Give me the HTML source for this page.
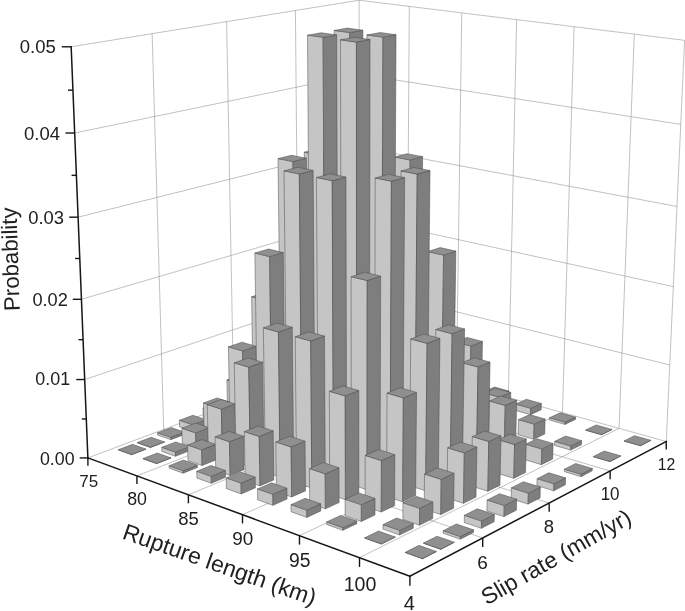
<!DOCTYPE html>
<html><head><meta charset="utf-8"><title>Probability chart</title>
<style>html,body{margin:0;padding:0;background:#fff}svg{display:block}text{font-family:"Liberation Sans",Arial,sans-serif;fill:#202020}</style>
</head><body>
<svg width="685" height="611" viewBox="0 0 685 611">
<rect width="685" height="611" fill="#fff"/>
<line x1="84.70" y1="379.55" x2="359.14" y2="287.59" stroke="#8e8e8e" stroke-width="0.55" />
<line x1="359.14" y1="287.59" x2="669.75" y2="364.96" stroke="#8e8e8e" stroke-width="0.55" />
<line x1="81.44" y1="299.32" x2="359.13" y2="217.93" stroke="#8e8e8e" stroke-width="0.55" />
<line x1="359.13" y1="217.93" x2="673.33" y2="286.62" stroke="#8e8e8e" stroke-width="0.55" />
<line x1="78.10" y1="217.16" x2="359.12" y2="146.85" stroke="#8e8e8e" stroke-width="0.55" />
<line x1="359.12" y1="146.85" x2="676.99" y2="206.45" stroke="#8e8e8e" stroke-width="0.55" />
<line x1="74.68" y1="133.01" x2="359.12" y2="74.29" stroke="#8e8e8e" stroke-width="0.55" />
<line x1="359.12" y1="74.29" x2="680.75" y2="124.38" stroke="#8e8e8e" stroke-width="0.55" />
<line x1="71.17" y1="46.78" x2="359.11" y2="0.21" stroke="#8e8e8e" stroke-width="0.55" />
<line x1="359.11" y1="0.21" x2="684.59" y2="40.35" stroke="#8e8e8e" stroke-width="0.55" />
<line x1="163.70" y1="429.40" x2="152.14" y2="33.68" stroke="#8e8e8e" stroke-width="0.55" />
<line x1="233.77" y1="403.03" x2="226.64" y2="21.63" stroke="#8e8e8e" stroke-width="0.55" />
<line x1="298.74" y1="378.59" x2="295.42" y2="10.51" stroke="#8e8e8e" stroke-width="0.55" />
<line x1="359.14" y1="355.86" x2="359.11" y2="0.21" stroke="#8e8e8e" stroke-width="0.55" />
<line x1="406.79" y1="369.15" x2="409.31" y2="6.40" stroke="#8e8e8e" stroke-width="0.55" />
<line x1="456.47" y1="383.01" x2="461.76" y2="12.87" stroke="#8e8e8e" stroke-width="0.55" />
<line x1="508.31" y1="397.47" x2="516.63" y2="19.63" stroke="#8e8e8e" stroke-width="0.55" />
<line x1="562.46" y1="412.57" x2="574.08" y2="26.72" stroke="#8e8e8e" stroke-width="0.55" />
<line x1="619.07" y1="428.37" x2="634.29" y2="34.14" stroke="#8e8e8e" stroke-width="0.55" />
<line x1="666.24" y1="441.53" x2="684.59" y2="40.35" stroke="#8e8e8e" stroke-width="0.55" />
<line x1="163.70" y1="429.40" x2="482.70" y2="537.94" stroke="#8e8e8e" stroke-width="0.55" />
<line x1="233.77" y1="403.03" x2="549.18" y2="503.02" stroke="#8e8e8e" stroke-width="0.55" />
<line x1="298.74" y1="378.59" x2="610.14" y2="470.99" stroke="#8e8e8e" stroke-width="0.55" />
<line x1="359.14" y1="355.86" x2="666.24" y2="441.53" stroke="#8e8e8e" stroke-width="0.55" />
<line x1="87.89" y1="457.92" x2="359.14" y2="355.86" stroke="#8e8e8e" stroke-width="0.55" />
<line x1="136.92" y1="475.93" x2="406.79" y2="369.15" stroke="#8e8e8e" stroke-width="0.55" />
<line x1="188.40" y1="494.83" x2="456.47" y2="383.01" stroke="#8e8e8e" stroke-width="0.55" />
<line x1="242.51" y1="514.70" x2="508.31" y2="397.47" stroke="#8e8e8e" stroke-width="0.55" />
<line x1="299.47" y1="535.62" x2="562.46" y2="412.57" stroke="#8e8e8e" stroke-width="0.55" />
<line x1="359.50" y1="557.66" x2="619.07" y2="428.37" stroke="#8e8e8e" stroke-width="0.55" />
<polygon points="348.27,362.98 361.31,366.67 361.31,366.47 348.27,362.77" fill="#c5c5c5" stroke="#4a4a4a" stroke-width="0.5" stroke-linejoin="round"/>
<polygon points="361.31,366.67 372.33,362.45 372.33,362.24 361.31,366.47" fill="#7e7e7e" stroke="#4a4a4a" stroke-width="0.5" stroke-linejoin="round"/>
<polygon points="348.27,362.77 361.31,366.47 372.33,362.24 359.32,358.59" fill="#8f8f8f" stroke="#4a4a4a" stroke-width="0.5" stroke-linejoin="round"/>
<polygon points="315.52,375.35 328.63,379.20 328.63,378.99 315.52,375.15" fill="#c5c5c5" stroke="#4a4a4a" stroke-width="0.5" stroke-linejoin="round"/>
<polygon points="328.63,379.20 340.10,374.80 340.10,374.59 328.63,378.99" fill="#7e7e7e" stroke="#4a4a4a" stroke-width="0.5" stroke-linejoin="round"/>
<polygon points="315.52,375.15 328.63,378.99 340.10,374.59 327.01,370.80" fill="#8f8f8f" stroke="#4a4a4a" stroke-width="0.5" stroke-linejoin="round"/>
<polygon points="284.68,387.02 297.85,391.00 297.83,388.82 284.66,384.85" fill="#c5c5c5" stroke="#4a4a4a" stroke-width="0.5" stroke-linejoin="round"/>
<polygon points="297.85,391.00 309.73,386.44 309.71,384.28 297.83,388.82" fill="#7e7e7e" stroke="#4a4a4a" stroke-width="0.5" stroke-linejoin="round"/>
<polygon points="284.66,384.85 297.83,388.82 309.71,384.28 296.57,380.36" fill="#8f8f8f" stroke="#4a4a4a" stroke-width="0.5" stroke-linejoin="round"/>
<polygon points="255.72,397.97 268.92,402.08 268.84,395.83 255.62,391.75" fill="#c5c5c5" stroke="#4a4a4a" stroke-width="0.5" stroke-linejoin="round"/>
<polygon points="268.92,402.08 281.21,397.37 281.14,391.16 268.84,395.83" fill="#7e7e7e" stroke="#4a4a4a" stroke-width="0.5" stroke-linejoin="round"/>
<polygon points="255.62,391.75 268.84,395.83 281.14,391.16 267.94,387.14" fill="#8f8f8f" stroke="#4a4a4a" stroke-width="0.5" stroke-linejoin="round"/>
<polygon points="228.58,408.23 241.82,412.47 241.65,402.67 228.39,398.49" fill="#c5c5c5" stroke="#4a4a4a" stroke-width="0.5" stroke-linejoin="round"/>
<polygon points="241.82,412.47 254.49,407.61 254.34,397.88 241.65,402.67" fill="#7e7e7e" stroke="#4a4a4a" stroke-width="0.5" stroke-linejoin="round"/>
<polygon points="228.39,398.49 241.65,402.67 254.34,397.88 241.09,393.75" fill="#8f8f8f" stroke="#4a4a4a" stroke-width="0.5" stroke-linejoin="round"/>
<polygon points="203.22,417.82 216.50,422.18 216.29,412.26 202.99,407.95" fill="#c5c5c5" stroke="#4a4a4a" stroke-width="0.5" stroke-linejoin="round"/>
<polygon points="216.50,422.18 229.53,417.18 229.34,407.33 216.29,412.26" fill="#7e7e7e" stroke="#4a4a4a" stroke-width="0.5" stroke-linejoin="round"/>
<polygon points="202.99,407.95 216.29,412.26 229.34,407.33 216.06,403.08" fill="#8f8f8f" stroke="#4a4a4a" stroke-width="0.5" stroke-linejoin="round"/>
<polygon points="179.58,426.75 192.88,431.23 192.72,424.74 179.41,420.30" fill="#c5c5c5" stroke="#4a4a4a" stroke-width="0.5" stroke-linejoin="round"/>
<polygon points="192.88,431.23 206.26,426.10 206.11,419.65 192.72,424.74" fill="#7e7e7e" stroke="#4a4a4a" stroke-width="0.5" stroke-linejoin="round"/>
<polygon points="179.41,420.30 192.72,424.74 206.11,419.65 192.81,415.28" fill="#8f8f8f" stroke="#4a4a4a" stroke-width="0.5" stroke-linejoin="round"/>
<polygon points="157.59,435.07 170.91,439.65 170.85,437.33 157.52,432.76" fill="#c5c5c5" stroke="#4a4a4a" stroke-width="0.5" stroke-linejoin="round"/>
<polygon points="170.91,439.65 184.61,434.40 184.55,432.10 170.85,437.33" fill="#7e7e7e" stroke="#4a4a4a" stroke-width="0.5" stroke-linejoin="round"/>
<polygon points="157.52,432.76 170.85,437.33 184.55,432.10 171.23,427.60" fill="#8f8f8f" stroke="#4a4a4a" stroke-width="0.5" stroke-linejoin="round"/>
<polygon points="137.17,442.79 150.51,447.47 150.50,447.24 137.17,442.56" fill="#c5c5c5" stroke="#4a4a4a" stroke-width="0.5" stroke-linejoin="round"/>
<polygon points="150.51,447.47 164.51,442.10 164.51,441.88 150.50,447.24" fill="#7e7e7e" stroke="#4a4a4a" stroke-width="0.5" stroke-linejoin="round"/>
<polygon points="137.17,442.56 150.50,447.24 164.51,441.88 151.18,437.26" fill="#8f8f8f" stroke="#4a4a4a" stroke-width="0.5" stroke-linejoin="round"/>
<polygon points="118.26,449.94 131.61,454.72 131.60,454.49 118.25,449.71" fill="#c5c5c5" stroke="#4a4a4a" stroke-width="0.5" stroke-linejoin="round"/>
<polygon points="131.61,454.72 145.89,449.24 145.88,449.01 131.60,454.49" fill="#7e7e7e" stroke="#4a4a4a" stroke-width="0.5" stroke-linejoin="round"/>
<polygon points="118.25,449.71 131.60,454.49 145.88,449.01 132.54,444.31" fill="#8f8f8f" stroke="#4a4a4a" stroke-width="0.5" stroke-linejoin="round"/>
<polygon points="372.40,369.82 385.72,373.59 385.72,373.38 372.40,369.61" fill="#c5c5c5" stroke="#4a4a4a" stroke-width="0.5" stroke-linejoin="round"/>
<polygon points="385.72,373.59 396.70,369.27 396.70,369.07 385.72,373.38" fill="#7e7e7e" stroke="#4a4a4a" stroke-width="0.5" stroke-linejoin="round"/>
<polygon points="372.40,369.61 385.72,373.38 396.70,369.07 383.41,365.34" fill="#8f8f8f" stroke="#4a4a4a" stroke-width="0.5" stroke-linejoin="round"/>
<polygon points="339.79,382.47 353.18,386.39 353.18,382.61 339.78,378.71" fill="#c5c5c5" stroke="#4a4a4a" stroke-width="0.5" stroke-linejoin="round"/>
<polygon points="353.18,386.39 364.60,381.90 364.60,378.15 353.18,382.61" fill="#7e7e7e" stroke="#4a4a4a" stroke-width="0.5" stroke-linejoin="round"/>
<polygon points="339.78,378.71 353.18,382.61 364.60,378.15 351.23,374.29" fill="#8f8f8f" stroke="#4a4a4a" stroke-width="0.5" stroke-linejoin="round"/>
<polygon points="309.05,394.39 322.50,398.45 322.43,384.05 308.94,380.06" fill="#c5c5c5" stroke="#4a4a4a" stroke-width="0.5" stroke-linejoin="round"/>
<polygon points="322.50,398.45 334.35,393.80 334.29,379.48 322.43,384.05" fill="#7e7e7e" stroke="#4a4a4a" stroke-width="0.5" stroke-linejoin="round"/>
<polygon points="308.94,380.06 322.43,384.05 334.29,379.48 320.83,375.54" fill="#8f8f8f" stroke="#4a4a4a" stroke-width="0.5" stroke-linejoin="round"/>
<polygon points="280.17,405.59 293.68,409.79 293.37,378.75 279.80,374.71" fill="#c5c5c5" stroke="#4a4a4a" stroke-width="0.5" stroke-linejoin="round"/>
<polygon points="293.68,409.79 305.92,404.98 305.68,374.13 293.37,378.75" fill="#7e7e7e" stroke="#4a4a4a" stroke-width="0.5" stroke-linejoin="round"/>
<polygon points="279.80,374.71 293.37,378.75 305.68,374.13 292.13,370.15" fill="#8f8f8f" stroke="#4a4a4a" stroke-width="0.5" stroke-linejoin="round"/>
<polygon points="253.10,416.08 266.65,420.42 266.02,374.82 252.38,370.74" fill="#c5c5c5" stroke="#4a4a4a" stroke-width="0.5" stroke-linejoin="round"/>
<polygon points="266.65,420.42 279.29,415.45 278.75,370.15 266.02,374.82" fill="#7e7e7e" stroke="#4a4a4a" stroke-width="0.5" stroke-linejoin="round"/>
<polygon points="252.38,370.74 266.02,374.82 278.75,370.15 265.13,366.13" fill="#8f8f8f" stroke="#4a4a4a" stroke-width="0.5" stroke-linejoin="round"/>
<polygon points="227.80,425.89 241.39,430.36 240.58,384.17 226.90,379.96" fill="#c5c5c5" stroke="#4a4a4a" stroke-width="0.5" stroke-linejoin="round"/>
<polygon points="241.39,430.36 254.39,425.24 253.67,379.36 240.58,384.17" fill="#7e7e7e" stroke="#4a4a4a" stroke-width="0.5" stroke-linejoin="round"/>
<polygon points="226.90,379.96 240.58,384.17 253.67,379.36 240.01,375.22" fill="#8f8f8f" stroke="#4a4a4a" stroke-width="0.5" stroke-linejoin="round"/>
<polygon points="204.21,435.04 217.83,439.62 217.14,407.35 203.47,402.95" fill="#c5c5c5" stroke="#4a4a4a" stroke-width="0.5" stroke-linejoin="round"/>
<polygon points="217.83,439.62 231.17,434.37 230.56,402.32 217.14,407.35" fill="#7e7e7e" stroke="#4a4a4a" stroke-width="0.5" stroke-linejoin="round"/>
<polygon points="203.47,402.95 217.14,407.35 230.56,402.32 216.90,397.98" fill="#8f8f8f" stroke="#4a4a4a" stroke-width="0.5" stroke-linejoin="round"/>
<polygon points="182.26,443.56 195.90,448.25 195.52,432.88 181.85,428.27" fill="#c5c5c5" stroke="#4a4a4a" stroke-width="0.5" stroke-linejoin="round"/>
<polygon points="195.90,448.25 209.57,442.87 209.23,427.60 195.52,432.88" fill="#7e7e7e" stroke="#4a4a4a" stroke-width="0.5" stroke-linejoin="round"/>
<polygon points="181.85,428.27 195.52,432.88 209.23,427.60 195.57,423.07" fill="#8f8f8f" stroke="#4a4a4a" stroke-width="0.5" stroke-linejoin="round"/>
<polygon points="161.87,451.46 175.53,456.26 175.42,452.12 161.75,447.35" fill="#c5c5c5" stroke="#4a4a4a" stroke-width="0.5" stroke-linejoin="round"/>
<polygon points="175.53,456.26 189.51,450.76 189.41,446.65 175.42,452.12" fill="#7e7e7e" stroke="#4a4a4a" stroke-width="0.5" stroke-linejoin="round"/>
<polygon points="161.75,447.35 175.42,452.12 189.41,446.65 175.75,441.95" fill="#8f8f8f" stroke="#4a4a4a" stroke-width="0.5" stroke-linejoin="round"/>
<polygon points="142.98,458.79 156.66,463.68 156.65,463.45 142.97,458.55" fill="#c5c5c5" stroke="#4a4a4a" stroke-width="0.5" stroke-linejoin="round"/>
<polygon points="156.66,463.68 170.92,458.07 170.91,457.84 156.65,463.45" fill="#7e7e7e" stroke="#4a4a4a" stroke-width="0.5" stroke-linejoin="round"/>
<polygon points="142.97,458.55 156.65,463.45 170.91,457.84 157.25,453.02" fill="#8f8f8f" stroke="#4a4a4a" stroke-width="0.5" stroke-linejoin="round"/>
<polygon points="397.89,377.04 411.51,380.90 411.52,378.76 397.90,374.91" fill="#c5c5c5" stroke="#4a4a4a" stroke-width="0.5" stroke-linejoin="round"/>
<polygon points="411.51,380.90 422.43,376.48 422.45,374.35 411.52,378.76" fill="#7e7e7e" stroke="#4a4a4a" stroke-width="0.5" stroke-linejoin="round"/>
<polygon points="397.90,374.91 411.52,378.76 422.45,374.35 408.86,370.56" fill="#8f8f8f" stroke="#4a4a4a" stroke-width="0.5" stroke-linejoin="round"/>
<polygon points="365.42,389.98 379.11,393.99 379.16,379.68 365.43,375.74" fill="#c5c5c5" stroke="#4a4a4a" stroke-width="0.5" stroke-linejoin="round"/>
<polygon points="379.11,393.99 390.48,389.40 390.55,375.17 379.16,379.68" fill="#7e7e7e" stroke="#4a4a4a" stroke-width="0.5" stroke-linejoin="round"/>
<polygon points="365.43,375.74 379.16,379.68 390.55,375.17 376.85,371.29" fill="#8f8f8f" stroke="#4a4a4a" stroke-width="0.5" stroke-linejoin="round"/>
<polygon points="334.80,402.17 348.57,406.34 348.49,361.19 334.63,357.28" fill="#c5c5c5" stroke="#4a4a4a" stroke-width="0.5" stroke-linejoin="round"/>
<polygon points="348.57,406.34 360.36,401.57 360.37,356.72 348.49,361.19" fill="#7e7e7e" stroke="#4a4a4a" stroke-width="0.5" stroke-linejoin="round"/>
<polygon points="334.63,357.28 348.49,361.19 360.37,356.72 346.53,352.85" fill="#8f8f8f" stroke="#4a4a4a" stroke-width="0.5" stroke-linejoin="round"/>
<polygon points="306.02,413.64 319.85,417.95 319.29,324.20 305.28,320.42" fill="#c5c5c5" stroke="#4a4a4a" stroke-width="0.5" stroke-linejoin="round"/>
<polygon points="319.85,417.95 332.05,413.01 331.67,319.88 319.29,324.20" fill="#7e7e7e" stroke="#4a4a4a" stroke-width="0.5" stroke-linejoin="round"/>
<polygon points="305.28,320.42 319.29,324.20 331.67,319.88 317.68,316.16" fill="#8f8f8f" stroke="#4a4a4a" stroke-width="0.5" stroke-linejoin="round"/>
<polygon points="279.04,424.39 292.92,428.83 291.56,292.18 277.41,288.52" fill="#c5c5c5" stroke="#4a4a4a" stroke-width="0.5" stroke-linejoin="round"/>
<polygon points="292.92,428.83 305.51,423.74 304.41,288.00 291.56,292.18" fill="#7e7e7e" stroke="#4a4a4a" stroke-width="0.5" stroke-linejoin="round"/>
<polygon points="277.41,288.52 291.56,292.18 304.41,288.00 290.29,284.40" fill="#8f8f8f" stroke="#4a4a4a" stroke-width="0.5" stroke-linejoin="round"/>
<polygon points="253.81,434.44 267.73,439.01 265.83,300.53 251.64,296.76" fill="#c5c5c5" stroke="#4a4a4a" stroke-width="0.5" stroke-linejoin="round"/>
<polygon points="267.73,439.01 280.69,433.77 279.07,296.23 265.83,300.53" fill="#7e7e7e" stroke="#4a4a4a" stroke-width="0.5" stroke-linejoin="round"/>
<polygon points="251.64,296.76 265.83,300.53 279.07,296.23 264.90,292.52" fill="#8f8f8f" stroke="#4a4a4a" stroke-width="0.5" stroke-linejoin="round"/>
<polygon points="230.28,443.81 244.23,448.51 242.55,350.97 228.40,346.84" fill="#c5c5c5" stroke="#4a4a4a" stroke-width="0.5" stroke-linejoin="round"/>
<polygon points="244.23,448.51 257.54,443.13 256.06,346.25 242.55,350.97" fill="#7e7e7e" stroke="#4a4a4a" stroke-width="0.5" stroke-linejoin="round"/>
<polygon points="228.40,346.84 242.55,350.97 256.06,346.25 241.94,342.19" fill="#8f8f8f" stroke="#4a4a4a" stroke-width="0.5" stroke-linejoin="round"/>
<polygon points="208.37,452.54 222.36,457.35 221.36,409.13 207.29,404.60" fill="#c5c5c5" stroke="#4a4a4a" stroke-width="0.5" stroke-linejoin="round"/>
<polygon points="222.36,457.35 236.00,451.83 235.11,403.95 221.36,409.13" fill="#7e7e7e" stroke="#4a4a4a" stroke-width="0.5" stroke-linejoin="round"/>
<polygon points="207.29,404.60 221.36,409.13 235.11,403.95 221.05,399.49" fill="#8f8f8f" stroke="#4a4a4a" stroke-width="0.5" stroke-linejoin="round"/>
<polygon points="188.03,460.64 202.03,465.56 201.66,449.86 187.63,445.04" fill="#c5c5c5" stroke="#4a4a4a" stroke-width="0.5" stroke-linejoin="round"/>
<polygon points="202.03,465.56 215.98,459.92 215.65,444.33 201.66,449.86" fill="#7e7e7e" stroke="#4a4a4a" stroke-width="0.5" stroke-linejoin="round"/>
<polygon points="187.63,445.04 201.66,449.86 215.65,444.33 201.63,439.58" fill="#8f8f8f" stroke="#4a4a4a" stroke-width="0.5" stroke-linejoin="round"/>
<polygon points="169.16,468.16 183.19,473.18 183.12,470.76 169.10,465.76" fill="#c5c5c5" stroke="#4a4a4a" stroke-width="0.5" stroke-linejoin="round"/>
<polygon points="183.19,473.18 197.43,467.42 197.37,465.02 183.12,470.76" fill="#7e7e7e" stroke="#4a4a4a" stroke-width="0.5" stroke-linejoin="round"/>
<polygon points="169.10,465.76 183.12,470.76 197.37,465.02 183.36,460.10" fill="#8f8f8f" stroke="#4a4a4a" stroke-width="0.5" stroke-linejoin="round"/>
<polygon points="424.83,384.68 438.77,388.63 438.84,382.50 424.89,378.58" fill="#c5c5c5" stroke="#4a4a4a" stroke-width="0.5" stroke-linejoin="round"/>
<polygon points="438.77,388.63 449.63,384.11 449.71,378.01 438.84,382.50" fill="#7e7e7e" stroke="#4a4a4a" stroke-width="0.5" stroke-linejoin="round"/>
<polygon points="424.89,378.58 438.84,382.50 449.71,378.01 435.79,374.15" fill="#8f8f8f" stroke="#4a4a4a" stroke-width="0.5" stroke-linejoin="round"/>
<polygon points="392.52,397.92 406.54,402.03 406.76,371.32 392.67,367.38" fill="#c5c5c5" stroke="#4a4a4a" stroke-width="0.5" stroke-linejoin="round"/>
<polygon points="406.54,402.03 417.85,397.33 418.12,366.81 406.76,371.32" fill="#7e7e7e" stroke="#4a4a4a" stroke-width="0.5" stroke-linejoin="round"/>
<polygon points="392.67,367.38 406.76,371.32 418.12,366.81 404.06,362.92" fill="#8f8f8f" stroke="#4a4a4a" stroke-width="0.5" stroke-linejoin="round"/>
<polygon points="362.04,410.41 376.14,414.68 376.37,321.36 362.07,317.62" fill="#c5c5c5" stroke="#4a4a4a" stroke-width="0.5" stroke-linejoin="round"/>
<polygon points="376.14,414.68 387.88,409.79 388.27,317.09 376.37,321.36" fill="#7e7e7e" stroke="#4a4a4a" stroke-width="0.5" stroke-linejoin="round"/>
<polygon points="362.07,317.62 376.37,321.36 388.27,317.09 374.00,313.40" fill="#8f8f8f" stroke="#4a4a4a" stroke-width="0.5" stroke-linejoin="round"/>
<polygon points="333.38,422.16 347.55,426.57 347.20,233.35 332.63,230.05" fill="#c5c5c5" stroke="#4a4a4a" stroke-width="0.5" stroke-linejoin="round"/>
<polygon points="347.55,426.57 359.70,421.52 359.70,229.60 347.20,233.35" fill="#7e7e7e" stroke="#4a4a4a" stroke-width="0.5" stroke-linejoin="round"/>
<polygon points="332.63,230.05 347.20,233.35 359.70,229.60 345.16,226.35" fill="#8f8f8f" stroke="#4a4a4a" stroke-width="0.5" stroke-linejoin="round"/>
<polygon points="306.50,433.18 320.73,437.73 319.08,155.02 304.27,152.14" fill="#c5c5c5" stroke="#4a4a4a" stroke-width="0.5" stroke-linejoin="round"/>
<polygon points="320.73,437.73 333.27,432.51 332.16,151.76 319.08,155.02" fill="#7e7e7e" stroke="#4a4a4a" stroke-width="0.5" stroke-linejoin="round"/>
<polygon points="304.27,152.14 319.08,155.02 332.16,151.76 317.38,148.93" fill="#8f8f8f" stroke="#4a4a4a" stroke-width="0.5" stroke-linejoin="round"/>
<polygon points="281.36,443.48 295.63,448.17 292.89,161.55 278.02,158.58" fill="#c5c5c5" stroke="#4a4a4a" stroke-width="0.5" stroke-linejoin="round"/>
<polygon points="295.63,448.17 308.55,442.80 306.37,158.19 292.89,161.55" fill="#7e7e7e" stroke="#4a4a4a" stroke-width="0.5" stroke-linejoin="round"/>
<polygon points="278.02,158.58 292.89,161.55 306.37,158.19 291.54,155.26" fill="#8f8f8f" stroke="#4a4a4a" stroke-width="0.5" stroke-linejoin="round"/>
<polygon points="257.90,453.10 272.21,457.92 269.57,256.66 254.85,253.05" fill="#c5c5c5" stroke="#4a4a4a" stroke-width="0.5" stroke-linejoin="round"/>
<polygon points="272.21,457.92 285.48,452.40 283.26,252.55 269.57,256.66" fill="#7e7e7e" stroke="#4a4a4a" stroke-width="0.5" stroke-linejoin="round"/>
<polygon points="254.85,253.05 269.57,256.66 283.26,252.55 268.56,248.99" fill="#8f8f8f" stroke="#4a4a4a" stroke-width="0.5" stroke-linejoin="round"/>
<polygon points="236.05,462.06 250.40,466.99 248.76,367.20 234.21,362.86" fill="#c5c5c5" stroke="#4a4a4a" stroke-width="0.5" stroke-linejoin="round"/>
<polygon points="250.40,466.99 264.00,461.33 262.58,362.24 248.76,367.20" fill="#7e7e7e" stroke="#4a4a4a" stroke-width="0.5" stroke-linejoin="round"/>
<polygon points="234.21,362.86 248.76,367.20 262.58,362.24 248.05,357.96" fill="#8f8f8f" stroke="#4a4a4a" stroke-width="0.5" stroke-linejoin="round"/>
<polygon points="215.75,470.38 230.13,475.43 229.47,441.71 215.03,436.86" fill="#c5c5c5" stroke="#4a4a4a" stroke-width="0.5" stroke-linejoin="round"/>
<polygon points="230.13,475.43 244.04,469.64 243.46,436.15 229.47,441.71" fill="#7e7e7e" stroke="#4a4a4a" stroke-width="0.5" stroke-linejoin="round"/>
<polygon points="215.03,436.86 229.47,441.71 243.46,436.15 229.04,431.38" fill="#8f8f8f" stroke="#4a4a4a" stroke-width="0.5" stroke-linejoin="round"/>
<polygon points="196.93,478.09 211.33,483.25 211.17,476.33 196.76,471.22" fill="#c5c5c5" stroke="#4a4a4a" stroke-width="0.5" stroke-linejoin="round"/>
<polygon points="211.33,483.25 225.53,477.34 225.40,470.47 211.17,476.33" fill="#7e7e7e" stroke="#4a4a4a" stroke-width="0.5" stroke-linejoin="round"/>
<polygon points="196.76,471.22 211.17,476.33 225.40,470.47 211.00,465.44" fill="#8f8f8f" stroke="#4a4a4a" stroke-width="0.5" stroke-linejoin="round"/>
<polygon points="453.33,392.75 467.61,396.80 467.76,387.22 453.46,383.22" fill="#c5c5c5" stroke="#4a4a4a" stroke-width="0.5" stroke-linejoin="round"/>
<polygon points="467.61,396.80 478.40,392.17 478.57,382.65 467.76,387.22" fill="#7e7e7e" stroke="#4a4a4a" stroke-width="0.5" stroke-linejoin="round"/>
<polygon points="453.46,383.22 467.76,387.22 478.57,382.65 464.31,378.71" fill="#8f8f8f" stroke="#4a4a4a" stroke-width="0.5" stroke-linejoin="round"/>
<polygon points="421.21,406.33 435.58,410.54 436.09,365.57 421.61,361.61" fill="#c5c5c5" stroke="#4a4a4a" stroke-width="0.5" stroke-linejoin="round"/>
<polygon points="435.58,410.54 446.82,405.72 447.40,361.04 436.09,365.57" fill="#7e7e7e" stroke="#4a4a4a" stroke-width="0.5" stroke-linejoin="round"/>
<polygon points="421.61,361.61 436.09,365.57 447.40,361.04 432.96,357.13" fill="#8f8f8f" stroke="#4a4a4a" stroke-width="0.5" stroke-linejoin="round"/>
<polygon points="390.89,419.14 405.35,423.51 406.27,287.88 391.51,284.28" fill="#c5c5c5" stroke="#4a4a4a" stroke-width="0.5" stroke-linejoin="round"/>
<polygon points="405.35,423.51 417.03,418.50 418.17,283.78 406.27,287.88" fill="#7e7e7e" stroke="#4a4a4a" stroke-width="0.5" stroke-linejoin="round"/>
<polygon points="391.51,284.28 406.27,287.88 418.17,283.78 403.45,280.23" fill="#8f8f8f" stroke="#4a4a4a" stroke-width="0.5" stroke-linejoin="round"/>
<polygon points="362.37,431.19 376.90,435.72 377.62,153.84 362.48,150.97" fill="#c5c5c5" stroke="#4a4a4a" stroke-width="0.5" stroke-linejoin="round"/>
<polygon points="376.90,435.72 388.99,430.53 390.21,150.60 377.62,153.84" fill="#7e7e7e" stroke="#4a4a4a" stroke-width="0.5" stroke-linejoin="round"/>
<polygon points="362.48,150.97 377.62,153.84 390.21,150.60 375.10,147.78" fill="#8f8f8f" stroke="#4a4a4a" stroke-width="0.5" stroke-linejoin="round"/>
<polygon points="335.61,442.50 350.21,447.17 349.61,32.58 334.12,30.44" fill="#c5c5c5" stroke="#4a4a4a" stroke-width="0.5" stroke-linejoin="round"/>
<polygon points="350.21,447.17 362.69,441.82 362.87,30.19 349.61,32.58" fill="#7e7e7e" stroke="#4a4a4a" stroke-width="0.5" stroke-linejoin="round"/>
<polygon points="334.12,30.44 349.61,32.58 362.87,30.19 347.41,28.08" fill="#8f8f8f" stroke="#4a4a4a" stroke-width="0.5" stroke-linejoin="round"/>
<polygon points="310.56,453.08 325.22,457.89 323.05,37.37 307.49,35.16" fill="#c5c5c5" stroke="#4a4a4a" stroke-width="0.5" stroke-linejoin="round"/>
<polygon points="325.22,457.89 338.08,452.37 336.73,34.90 323.05,37.37" fill="#7e7e7e" stroke="#4a4a4a" stroke-width="0.5" stroke-linejoin="round"/>
<polygon points="307.49,35.16 323.05,37.37 336.73,34.90 321.20,32.73" fill="#8f8f8f" stroke="#4a4a4a" stroke-width="0.5" stroke-linejoin="round"/>
<polygon points="287.19,462.96 301.89,467.90 299.34,173.98 284.01,170.84" fill="#c5c5c5" stroke="#4a4a4a" stroke-width="0.5" stroke-linejoin="round"/>
<polygon points="301.89,467.90 315.11,462.23 313.15,170.42 299.34,173.98" fill="#7e7e7e" stroke="#4a4a4a" stroke-width="0.5" stroke-linejoin="round"/>
<polygon points="284.01,170.84 299.34,173.98 313.15,170.42 297.86,167.33" fill="#8f8f8f" stroke="#4a4a4a" stroke-width="0.5" stroke-linejoin="round"/>
<polygon points="265.41,472.16 280.15,477.23 278.42,332.00 263.37,327.82" fill="#c5c5c5" stroke="#4a4a4a" stroke-width="0.5" stroke-linejoin="round"/>
<polygon points="280.15,477.23 293.71,471.41 292.28,327.22 278.42,332.00" fill="#7e7e7e" stroke="#4a4a4a" stroke-width="0.5" stroke-linejoin="round"/>
<polygon points="263.37,327.82 278.42,332.00 292.28,327.22 277.26,323.10" fill="#8f8f8f" stroke="#4a4a4a" stroke-width="0.5" stroke-linejoin="round"/>
<polygon points="245.18,480.71 259.95,485.90 259.21,436.45 244.33,431.57" fill="#c5c5c5" stroke="#4a4a4a" stroke-width="0.5" stroke-linejoin="round"/>
<polygon points="259.95,485.90 273.82,479.95 273.19,430.85 259.21,436.45" fill="#7e7e7e" stroke="#4a4a4a" stroke-width="0.5" stroke-linejoin="round"/>
<polygon points="244.33,431.57 259.21,436.45 273.19,430.85 258.33,426.04" fill="#8f8f8f" stroke="#4a4a4a" stroke-width="0.5" stroke-linejoin="round"/>
<polygon points="226.40,488.64 241.21,493.94 241.01,483.11 226.19,477.88" fill="#c5c5c5" stroke="#4a4a4a" stroke-width="0.5" stroke-linejoin="round"/>
<polygon points="241.21,493.94 255.37,487.86 255.20,477.11 241.01,483.11" fill="#7e7e7e" stroke="#4a4a4a" stroke-width="0.5" stroke-linejoin="round"/>
<polygon points="226.19,477.88 241.01,483.11 255.20,477.11 240.40,471.96" fill="#8f8f8f" stroke="#4a4a4a" stroke-width="0.5" stroke-linejoin="round"/>
<polygon points="483.52,401.31 498.16,405.46 498.36,395.77 483.70,391.67" fill="#c5c5c5" stroke="#4a4a4a" stroke-width="0.5" stroke-linejoin="round"/>
<polygon points="498.16,405.46 508.88,400.71 509.09,391.08 498.36,395.77" fill="#7e7e7e" stroke="#4a4a4a" stroke-width="0.5" stroke-linejoin="round"/>
<polygon points="483.70,391.67 498.36,395.77 509.09,391.08 494.47,387.04" fill="#8f8f8f" stroke="#4a4a4a" stroke-width="0.5" stroke-linejoin="round"/>
<polygon points="451.61,415.24 466.36,419.56 467.08,374.06 452.22,369.99" fill="#c5c5c5" stroke="#4a4a4a" stroke-width="0.5" stroke-linejoin="round"/>
<polygon points="466.36,419.56 477.53,414.61 478.32,369.41 467.08,374.06" fill="#7e7e7e" stroke="#4a4a4a" stroke-width="0.5" stroke-linejoin="round"/>
<polygon points="452.22,369.99 467.08,374.06 478.32,369.41 463.50,365.40" fill="#8f8f8f" stroke="#4a4a4a" stroke-width="0.5" stroke-linejoin="round"/>
<polygon points="421.48,428.39 436.32,432.88 437.89,295.60 422.73,291.90" fill="#c5c5c5" stroke="#4a4a4a" stroke-width="0.5" stroke-linejoin="round"/>
<polygon points="436.32,432.88 447.93,427.74 449.72,291.38 437.89,295.60" fill="#7e7e7e" stroke="#4a4a4a" stroke-width="0.5" stroke-linejoin="round"/>
<polygon points="422.73,291.90 437.89,295.60 449.72,291.38 434.59,287.74" fill="#8f8f8f" stroke="#4a4a4a" stroke-width="0.5" stroke-linejoin="round"/>
<polygon points="393.11,440.77 408.04,445.42 410.10,159.98 394.53,157.03" fill="#c5c5c5" stroke="#4a4a4a" stroke-width="0.5" stroke-linejoin="round"/>
<polygon points="408.04,445.42 420.06,440.09 422.61,156.64 410.10,159.98" fill="#7e7e7e" stroke="#4a4a4a" stroke-width="0.5" stroke-linejoin="round"/>
<polygon points="394.53,157.03 410.10,159.98 422.61,156.64 407.08,153.74" fill="#8f8f8f" stroke="#4a4a4a" stroke-width="0.5" stroke-linejoin="round"/>
<polygon points="366.49,452.39 381.50,457.19 382.86,37.17 366.91,34.96" fill="#c5c5c5" stroke="#4a4a4a" stroke-width="0.5" stroke-linejoin="round"/>
<polygon points="381.50,457.19 393.91,451.68 396.04,34.71 382.86,37.17" fill="#7e7e7e" stroke="#4a4a4a" stroke-width="0.5" stroke-linejoin="round"/>
<polygon points="366.91,34.96 382.86,37.17 396.04,34.71 380.13,32.54" fill="#8f8f8f" stroke="#4a4a4a" stroke-width="0.5" stroke-linejoin="round"/>
<polygon points="341.57,463.26 356.63,468.21 356.43,42.10 340.42,39.83" fill="#c5c5c5" stroke="#4a4a4a" stroke-width="0.5" stroke-linejoin="round"/>
<polygon points="356.63,468.21 369.43,462.54 370.04,39.56 356.43,42.10" fill="#7e7e7e" stroke="#4a4a4a" stroke-width="0.5" stroke-linejoin="round"/>
<polygon points="340.42,39.83 356.43,42.10 370.04,39.56 354.06,37.32" fill="#8f8f8f" stroke="#4a4a4a" stroke-width="0.5" stroke-linejoin="round"/>
<polygon points="318.29,473.42 333.41,478.51 332.23,180.71 316.45,177.48" fill="#c5c5c5" stroke="#4a4a4a" stroke-width="0.5" stroke-linejoin="round"/>
<polygon points="333.41,478.51 346.57,472.68 345.98,177.05 332.23,180.71" fill="#7e7e7e" stroke="#4a4a4a" stroke-width="0.5" stroke-linejoin="round"/>
<polygon points="316.45,177.48 332.23,180.71 345.98,177.05 330.23,173.87" fill="#8f8f8f" stroke="#4a4a4a" stroke-width="0.5" stroke-linejoin="round"/>
<polygon points="296.61,482.89 311.77,488.10 310.71,340.99 295.22,336.68" fill="#c5c5c5" stroke="#4a4a4a" stroke-width="0.5" stroke-linejoin="round"/>
<polygon points="311.77,488.10 325.27,482.12 324.51,336.07 310.71,340.99" fill="#7e7e7e" stroke="#4a4a4a" stroke-width="0.5" stroke-linejoin="round"/>
<polygon points="295.22,336.68 310.71,340.99 324.51,336.07 309.05,331.82" fill="#8f8f8f" stroke="#4a4a4a" stroke-width="0.5" stroke-linejoin="round"/>
<polygon points="276.44,491.69 291.65,497.03 291.13,446.95 275.82,441.91" fill="#c5c5c5" stroke="#4a4a4a" stroke-width="0.5" stroke-linejoin="round"/>
<polygon points="291.65,497.03 305.46,490.90 305.06,441.18 291.13,446.95" fill="#7e7e7e" stroke="#4a4a4a" stroke-width="0.5" stroke-linejoin="round"/>
<polygon points="275.82,441.91 291.13,446.95 305.06,441.18 289.77,436.23" fill="#8f8f8f" stroke="#4a4a4a" stroke-width="0.5" stroke-linejoin="round"/>
<polygon points="257.73,499.85 272.97,505.31 272.83,494.34 257.57,488.95" fill="#c5c5c5" stroke="#4a4a4a" stroke-width="0.5" stroke-linejoin="round"/>
<polygon points="272.97,505.31 287.09,499.05 286.97,488.16 272.83,494.34" fill="#7e7e7e" stroke="#4a4a4a" stroke-width="0.5" stroke-linejoin="round"/>
<polygon points="257.57,488.95 272.83,494.34 286.97,488.16 271.73,482.86" fill="#8f8f8f" stroke="#4a4a4a" stroke-width="0.5" stroke-linejoin="round"/>
<polygon points="515.53,410.38 530.57,414.65 530.73,408.30 515.68,404.07" fill="#c5c5c5" stroke="#4a4a4a" stroke-width="0.5" stroke-linejoin="round"/>
<polygon points="530.57,414.65 541.20,409.77 541.36,403.46 530.73,408.30" fill="#7e7e7e" stroke="#4a4a4a" stroke-width="0.5" stroke-linejoin="round"/>
<polygon points="515.68,404.07 530.73,408.30 541.36,403.46 526.36,399.29" fill="#8f8f8f" stroke="#4a4a4a" stroke-width="0.5" stroke-linejoin="round"/>
<polygon points="483.86,424.69 499.02,429.13 499.68,397.33 484.45,393.07" fill="#c5c5c5" stroke="#4a4a4a" stroke-width="0.5" stroke-linejoin="round"/>
<polygon points="499.02,429.13 510.10,424.05 510.80,392.45 499.68,397.33" fill="#7e7e7e" stroke="#4a4a4a" stroke-width="0.5" stroke-linejoin="round"/>
<polygon points="484.45,393.07 499.68,397.33 510.80,392.45 495.61,388.25" fill="#8f8f8f" stroke="#4a4a4a" stroke-width="0.5" stroke-linejoin="round"/>
<polygon points="453.94,438.21 469.21,442.83 470.79,346.09 455.29,342.03" fill="#c5c5c5" stroke="#4a4a4a" stroke-width="0.5" stroke-linejoin="round"/>
<polygon points="469.21,442.83 480.72,437.54 482.46,341.45 470.79,346.09" fill="#7e7e7e" stroke="#4a4a4a" stroke-width="0.5" stroke-linejoin="round"/>
<polygon points="455.29,342.03 470.79,346.09 482.46,341.45 467.01,337.46" fill="#8f8f8f" stroke="#4a4a4a" stroke-width="0.5" stroke-linejoin="round"/>
<polygon points="425.77,450.94 441.12,455.72 443.56,255.18 427.73,251.60" fill="#c5c5c5" stroke="#4a4a4a" stroke-width="0.5" stroke-linejoin="round"/>
<polygon points="441.12,455.72 453.06,450.24 455.84,251.10 443.56,255.18" fill="#7e7e7e" stroke="#4a4a4a" stroke-width="0.5" stroke-linejoin="round"/>
<polygon points="427.73,251.60 443.56,255.18 455.84,251.10 440.05,247.57" fill="#8f8f8f" stroke="#4a4a4a" stroke-width="0.5" stroke-linejoin="round"/>
<polygon points="399.31,462.89 414.74,467.84 417.16,174.10 401.04,170.96" fill="#c5c5c5" stroke="#4a4a4a" stroke-width="0.5" stroke-linejoin="round"/>
<polygon points="414.74,467.84 427.08,462.17 430.02,170.54 417.16,174.10" fill="#7e7e7e" stroke="#4a4a4a" stroke-width="0.5" stroke-linejoin="round"/>
<polygon points="401.04,170.96 417.16,174.10 430.02,170.54 413.94,167.46" fill="#8f8f8f" stroke="#4a4a4a" stroke-width="0.5" stroke-linejoin="round"/>
<polygon points="374.53,474.09 390.03,479.18 391.39,181.22 375.18,177.98" fill="#c5c5c5" stroke="#4a4a4a" stroke-width="0.5" stroke-linejoin="round"/>
<polygon points="390.03,479.18 402.75,473.34 404.66,177.55 391.39,181.22" fill="#7e7e7e" stroke="#4a4a4a" stroke-width="0.5" stroke-linejoin="round"/>
<polygon points="375.18,177.98 391.39,181.22 404.66,177.55 388.49,174.37" fill="#8f8f8f" stroke="#4a4a4a" stroke-width="0.5" stroke-linejoin="round"/>
<polygon points="351.37,484.55 366.94,489.79 367.17,280.58 351.11,276.64" fill="#c5c5c5" stroke="#4a4a4a" stroke-width="0.5" stroke-linejoin="round"/>
<polygon points="366.94,489.79 380.02,483.78 380.66,276.10 367.17,280.58" fill="#7e7e7e" stroke="#4a4a4a" stroke-width="0.5" stroke-linejoin="round"/>
<polygon points="351.11,276.64 367.17,280.58 380.66,276.10 364.64,272.22" fill="#8f8f8f" stroke="#4a4a4a" stroke-width="0.5" stroke-linejoin="round"/>
<polygon points="329.79,494.30 345.41,499.68 345.19,395.97 329.32,391.24" fill="#c5c5c5" stroke="#4a4a4a" stroke-width="0.5" stroke-linejoin="round"/>
<polygon points="345.41,499.68 358.84,493.51 358.82,390.55 345.19,395.97" fill="#7e7e7e" stroke="#4a4a4a" stroke-width="0.5" stroke-linejoin="round"/>
<polygon points="329.32,391.24 345.19,395.97 358.82,390.55 342.99,385.90" fill="#8f8f8f" stroke="#4a4a4a" stroke-width="0.5" stroke-linejoin="round"/>
<polygon points="309.72,503.37 325.39,508.87 325.20,473.83 309.45,468.55" fill="#c5c5c5" stroke="#4a4a4a" stroke-width="0.5" stroke-linejoin="round"/>
<polygon points="325.39,508.87 339.13,502.56 339.03,467.77 325.20,473.83" fill="#7e7e7e" stroke="#4a4a4a" stroke-width="0.5" stroke-linejoin="round"/>
<polygon points="309.45,468.55 325.20,473.83 339.03,467.77 323.31,462.57" fill="#8f8f8f" stroke="#4a4a4a" stroke-width="0.5" stroke-linejoin="round"/>
<polygon points="291.08,511.79 306.79,517.41 306.74,510.22 291.01,504.64" fill="#c5c5c5" stroke="#4a4a4a" stroke-width="0.5" stroke-linejoin="round"/>
<polygon points="306.79,517.41 320.84,510.96 320.80,503.82 306.74,510.22" fill="#7e7e7e" stroke="#4a4a4a" stroke-width="0.5" stroke-linejoin="round"/>
<polygon points="291.01,504.64 306.74,510.22 320.80,503.82 305.11,498.33" fill="#8f8f8f" stroke="#4a4a4a" stroke-width="0.5" stroke-linejoin="round"/>
<polygon points="549.52,420.02 564.98,424.40 565.05,422.13 549.58,417.76" fill="#c5c5c5" stroke="#4a4a4a" stroke-width="0.5" stroke-linejoin="round"/>
<polygon points="564.98,424.40 575.50,419.38 575.58,417.12 565.05,422.13" fill="#7e7e7e" stroke="#4a4a4a" stroke-width="0.5" stroke-linejoin="round"/>
<polygon points="549.58,417.76 565.05,422.13 575.58,417.12 560.16,412.82" fill="#8f8f8f" stroke="#4a4a4a" stroke-width="0.5" stroke-linejoin="round"/>
<polygon points="518.12,434.74 533.72,439.30 534.11,424.13 518.48,419.64" fill="#c5c5c5" stroke="#4a4a4a" stroke-width="0.5" stroke-linejoin="round"/>
<polygon points="533.72,439.30 544.70,434.07 545.11,418.99 534.11,424.13" fill="#7e7e7e" stroke="#4a4a4a" stroke-width="0.5" stroke-linejoin="round"/>
<polygon points="518.48,419.64 534.11,424.13 545.11,418.99 529.53,414.58" fill="#8f8f8f" stroke="#4a4a4a" stroke-width="0.5" stroke-linejoin="round"/>
<polygon points="488.45,448.65 504.16,453.40 505.20,405.48 489.37,401.01" fill="#c5c5c5" stroke="#4a4a4a" stroke-width="0.5" stroke-linejoin="round"/>
<polygon points="504.16,453.40 515.58,447.95 516.69,400.36 505.20,405.48" fill="#7e7e7e" stroke="#4a4a4a" stroke-width="0.5" stroke-linejoin="round"/>
<polygon points="489.37,401.01 505.20,405.48 516.69,400.36 500.91,395.95" fill="#8f8f8f" stroke="#4a4a4a" stroke-width="0.5" stroke-linejoin="round"/>
<polygon points="460.49,461.75 476.31,466.68 478.04,367.03 461.98,362.70" fill="#c5c5c5" stroke="#4a4a4a" stroke-width="0.5" stroke-linejoin="round"/>
<polygon points="476.31,466.68 488.15,461.03 490.05,362.08 478.04,367.03" fill="#7e7e7e" stroke="#4a4a4a" stroke-width="0.5" stroke-linejoin="round"/>
<polygon points="461.98,362.70 478.04,367.03 490.05,362.08 474.04,357.81" fill="#8f8f8f" stroke="#4a4a4a" stroke-width="0.5" stroke-linejoin="round"/>
<polygon points="434.22,474.07 450.13,479.16 452.10,333.72 435.83,329.51" fill="#c5c5c5" stroke="#4a4a4a" stroke-width="0.5" stroke-linejoin="round"/>
<polygon points="450.13,479.16 462.37,473.32 464.60,328.91 452.10,333.72" fill="#7e7e7e" stroke="#4a4a4a" stroke-width="0.5" stroke-linejoin="round"/>
<polygon points="435.83,329.51 452.10,333.72 464.60,328.91 448.38,324.77" fill="#8f8f8f" stroke="#4a4a4a" stroke-width="0.5" stroke-linejoin="round"/>
<polygon points="409.60,485.61 425.59,490.86 427.05,343.35 410.70,339.00" fill="#c5c5c5" stroke="#4a4a4a" stroke-width="0.5" stroke-linejoin="round"/>
<polygon points="425.59,490.86 438.22,484.84 439.95,338.39 427.05,343.35" fill="#7e7e7e" stroke="#4a4a4a" stroke-width="0.5" stroke-linejoin="round"/>
<polygon points="410.70,339.00 427.05,343.35 439.95,338.39 423.64,334.11" fill="#8f8f8f" stroke="#4a4a4a" stroke-width="0.5" stroke-linejoin="round"/>
<polygon points="386.59,496.40 402.65,501.80 403.32,397.87 387.01,393.11" fill="#c5c5c5" stroke="#4a4a4a" stroke-width="0.5" stroke-linejoin="round"/>
<polygon points="402.65,501.80 415.65,495.60 416.52,392.42 403.32,397.87" fill="#7e7e7e" stroke="#4a4a4a" stroke-width="0.5" stroke-linejoin="round"/>
<polygon points="387.01,393.11 403.32,397.87 416.52,392.42 400.25,387.74" fill="#8f8f8f" stroke="#4a4a4a" stroke-width="0.5" stroke-linejoin="round"/>
<polygon points="365.14,506.46 381.25,512.00 381.42,460.62 365.18,455.39" fill="#c5c5c5" stroke="#4a4a4a" stroke-width="0.5" stroke-linejoin="round"/>
<polygon points="381.25,512.00 394.60,505.64 394.87,454.63 381.42,460.62" fill="#7e7e7e" stroke="#4a4a4a" stroke-width="0.5" stroke-linejoin="round"/>
<polygon points="365.18,455.39 381.42,460.62 394.87,454.63 378.66,449.49" fill="#8f8f8f" stroke="#4a4a4a" stroke-width="0.5" stroke-linejoin="round"/>
<polygon points="345.17,515.82 361.34,521.50 361.35,504.76 345.13,499.19" fill="#c5c5c5" stroke="#4a4a4a" stroke-width="0.5" stroke-linejoin="round"/>
<polygon points="361.34,521.50 375.01,514.98 375.05,498.37 361.35,504.76" fill="#7e7e7e" stroke="#4a4a4a" stroke-width="0.5" stroke-linejoin="round"/>
<polygon points="345.13,499.19 361.35,504.76 375.05,498.37 358.88,492.88" fill="#8f8f8f" stroke="#4a4a4a" stroke-width="0.5" stroke-linejoin="round"/>
<polygon points="326.63,524.51 342.85,530.32 342.85,527.74 326.62,521.95" fill="#c5c5c5" stroke="#4a4a4a" stroke-width="0.5" stroke-linejoin="round"/>
<polygon points="342.85,530.32 356.83,523.65 356.83,521.09 342.85,527.74" fill="#7e7e7e" stroke="#4a4a4a" stroke-width="0.5" stroke-linejoin="round"/>
<polygon points="326.62,521.95 342.85,527.74 356.83,521.09 340.64,515.40" fill="#8f8f8f" stroke="#4a4a4a" stroke-width="0.5" stroke-linejoin="round"/>
<polygon points="585.65,430.26 601.57,434.77 601.57,434.54 585.66,430.03" fill="#c5c5c5" stroke="#4a4a4a" stroke-width="0.5" stroke-linejoin="round"/>
<polygon points="601.57,434.77 611.97,429.60 611.98,429.38 601.57,434.54" fill="#7e7e7e" stroke="#4a4a4a" stroke-width="0.5" stroke-linejoin="round"/>
<polygon points="585.66,430.03 601.57,434.54 611.98,429.38 596.12,424.93" fill="#8f8f8f" stroke="#4a4a4a" stroke-width="0.5" stroke-linejoin="round"/>
<polygon points="554.57,445.42 570.63,450.12 570.76,446.03 554.69,441.34" fill="#c5c5c5" stroke="#4a4a4a" stroke-width="0.5" stroke-linejoin="round"/>
<polygon points="570.63,450.12 581.50,444.73 581.64,440.66 570.76,446.03" fill="#7e7e7e" stroke="#4a4a4a" stroke-width="0.5" stroke-linejoin="round"/>
<polygon points="554.69,441.34 570.76,446.03 581.64,440.66 565.61,436.04" fill="#8f8f8f" stroke="#4a4a4a" stroke-width="0.5" stroke-linejoin="round"/>
<polygon points="525.18,459.76 541.37,464.65 541.80,448.99 525.57,444.19" fill="#c5c5c5" stroke="#4a4a4a" stroke-width="0.5" stroke-linejoin="round"/>
<polygon points="541.37,464.65 552.68,459.04 553.13,443.49 541.80,448.99" fill="#7e7e7e" stroke="#4a4a4a" stroke-width="0.5" stroke-linejoin="round"/>
<polygon points="525.57,444.19 541.80,448.99 553.13,443.49 536.95,438.75" fill="#8f8f8f" stroke="#4a4a4a" stroke-width="0.5" stroke-linejoin="round"/>
<polygon points="497.47,473.27 513.78,478.35 514.56,444.56 498.16,439.68" fill="#c5c5c5" stroke="#4a4a4a" stroke-width="0.5" stroke-linejoin="round"/>
<polygon points="513.78,478.35 525.51,472.53 526.35,438.97 514.56,444.56" fill="#7e7e7e" stroke="#4a4a4a" stroke-width="0.5" stroke-linejoin="round"/>
<polygon points="498.16,439.68 514.56,444.56 526.35,438.97 510.00,434.17" fill="#8f8f8f" stroke="#4a4a4a" stroke-width="0.5" stroke-linejoin="round"/>
<polygon points="471.42,485.98 487.83,491.24 488.79,441.54 472.25,436.58" fill="#c5c5c5" stroke="#4a4a4a" stroke-width="0.5" stroke-linejoin="round"/>
<polygon points="487.83,491.24 499.97,485.21 501.01,435.86 488.79,441.54" fill="#7e7e7e" stroke="#4a4a4a" stroke-width="0.5" stroke-linejoin="round"/>
<polygon points="472.25,436.58 488.79,441.54 501.01,435.86 484.52,430.98" fill="#8f8f8f" stroke="#4a4a4a" stroke-width="0.5" stroke-linejoin="round"/>
<polygon points="446.99,497.90 463.50,503.32 464.28,452.91 447.65,447.80" fill="#c5c5c5" stroke="#4a4a4a" stroke-width="0.5" stroke-linejoin="round"/>
<polygon points="463.50,503.32 476.03,497.10 476.90,447.05 464.28,452.91" fill="#7e7e7e" stroke="#4a4a4a" stroke-width="0.5" stroke-linejoin="round"/>
<polygon points="447.65,447.80 464.28,452.91 476.90,447.05 460.32,442.02" fill="#8f8f8f" stroke="#4a4a4a" stroke-width="0.5" stroke-linejoin="round"/>
<polygon points="424.15,509.04 440.74,514.62 441.17,479.37 424.49,474.01" fill="#c5c5c5" stroke="#4a4a4a" stroke-width="0.5" stroke-linejoin="round"/>
<polygon points="440.74,514.62 453.64,508.21 454.13,473.22 441.17,479.37" fill="#7e7e7e" stroke="#4a4a4a" stroke-width="0.5" stroke-linejoin="round"/>
<polygon points="424.49,474.01 441.17,479.37 454.13,473.22 437.50,467.95" fill="#8f8f8f" stroke="#4a4a4a" stroke-width="0.5" stroke-linejoin="round"/>
<polygon points="402.85,519.43 419.50,525.16 419.65,508.36 402.95,502.74" fill="#c5c5c5" stroke="#4a4a4a" stroke-width="0.5" stroke-linejoin="round"/>
<polygon points="419.50,525.16 432.75,518.58 432.93,501.91 419.65,508.36" fill="#7e7e7e" stroke="#4a4a4a" stroke-width="0.5" stroke-linejoin="round"/>
<polygon points="402.95,502.74 419.65,508.36 432.93,501.91 416.28,496.37" fill="#8f8f8f" stroke="#4a4a4a" stroke-width="0.5" stroke-linejoin="round"/>
<polygon points="383.01,529.11 399.73,534.98 399.76,530.45 383.03,524.61" fill="#c5c5c5" stroke="#4a4a4a" stroke-width="0.5" stroke-linejoin="round"/>
<polygon points="399.73,534.98 413.31,528.24 413.34,523.74 399.76,530.45" fill="#7e7e7e" stroke="#4a4a4a" stroke-width="0.5" stroke-linejoin="round"/>
<polygon points="383.03,524.61 399.76,530.45 413.34,523.74 396.65,518.00" fill="#8f8f8f" stroke="#4a4a4a" stroke-width="0.5" stroke-linejoin="round"/>
<polygon points="364.59,538.09 381.36,544.10 381.36,543.84 364.59,537.84" fill="#c5c5c5" stroke="#4a4a4a" stroke-width="0.5" stroke-linejoin="round"/>
<polygon points="381.36,544.10 395.25,537.20 395.25,536.95 381.36,543.84" fill="#7e7e7e" stroke="#4a4a4a" stroke-width="0.5" stroke-linejoin="round"/>
<polygon points="364.59,537.84 381.36,543.84 395.25,536.95 378.51,531.05" fill="#8f8f8f" stroke="#4a4a4a" stroke-width="0.5" stroke-linejoin="round"/>
<polygon points="624.11,441.16 640.52,445.81 640.53,445.58 624.12,440.93" fill="#c5c5c5" stroke="#4a4a4a" stroke-width="0.5" stroke-linejoin="round"/>
<polygon points="640.52,445.81 650.80,440.48 650.81,440.25 640.53,445.58" fill="#7e7e7e" stroke="#4a4a4a" stroke-width="0.5" stroke-linejoin="round"/>
<polygon points="624.12,440.93 640.53,445.58 650.81,440.25 634.45,435.67" fill="#8f8f8f" stroke="#4a4a4a" stroke-width="0.5" stroke-linejoin="round"/>
<polygon points="593.40,456.80 609.97,461.65 609.97,461.42 593.40,456.56" fill="#c5c5c5" stroke="#4a4a4a" stroke-width="0.5" stroke-linejoin="round"/>
<polygon points="609.97,461.65 620.70,456.09 620.71,455.85 609.97,461.42" fill="#7e7e7e" stroke="#4a4a4a" stroke-width="0.5" stroke-linejoin="round"/>
<polygon points="593.40,456.56 609.97,461.42 620.71,455.85 604.20,451.07" fill="#8f8f8f" stroke="#4a4a4a" stroke-width="0.5" stroke-linejoin="round"/>
<polygon points="564.33,471.60 581.04,476.65 581.12,474.23 564.40,469.19" fill="#c5c5c5" stroke="#4a4a4a" stroke-width="0.5" stroke-linejoin="round"/>
<polygon points="581.04,476.65 592.22,470.85 592.31,468.45 581.12,474.23" fill="#7e7e7e" stroke="#4a4a4a" stroke-width="0.5" stroke-linejoin="round"/>
<polygon points="564.40,469.19 581.12,474.23 592.31,468.45 575.64,463.49" fill="#8f8f8f" stroke="#4a4a4a" stroke-width="0.5" stroke-linejoin="round"/>
<polygon points="536.90,485.56 553.75,490.80 553.95,483.84 537.09,478.63" fill="#c5c5c5" stroke="#4a4a4a" stroke-width="0.5" stroke-linejoin="round"/>
<polygon points="553.75,490.80 565.36,484.78 565.57,477.87 553.95,483.84" fill="#7e7e7e" stroke="#4a4a4a" stroke-width="0.5" stroke-linejoin="round"/>
<polygon points="537.09,478.63 553.95,483.84 565.57,477.87 548.76,472.74" fill="#8f8f8f" stroke="#4a4a4a" stroke-width="0.5" stroke-linejoin="round"/>
<polygon points="511.11,498.69 528.07,504.12 528.35,493.18 511.36,487.82" fill="#c5c5c5" stroke="#4a4a4a" stroke-width="0.5" stroke-linejoin="round"/>
<polygon points="528.07,504.12 540.09,497.89 540.38,487.03 528.35,493.18" fill="#7e7e7e" stroke="#4a4a4a" stroke-width="0.5" stroke-linejoin="round"/>
<polygon points="511.36,487.82 528.35,493.18 540.38,487.03 523.44,481.75" fill="#8f8f8f" stroke="#4a4a4a" stroke-width="0.5" stroke-linejoin="round"/>
<polygon points="486.91,511.01 503.98,516.61 504.22,505.52 487.12,499.98" fill="#c5c5c5" stroke="#4a4a4a" stroke-width="0.5" stroke-linejoin="round"/>
<polygon points="503.98,516.61 516.39,510.18 516.65,499.16 504.22,505.52" fill="#7e7e7e" stroke="#4a4a4a" stroke-width="0.5" stroke-linejoin="round"/>
<polygon points="487.12,499.98 504.22,505.52 516.65,499.16 499.60,493.72" fill="#8f8f8f" stroke="#4a4a4a" stroke-width="0.5" stroke-linejoin="round"/>
<polygon points="464.27,522.53 481.43,528.31 481.56,521.04 464.39,515.31" fill="#c5c5c5" stroke="#4a4a4a" stroke-width="0.5" stroke-linejoin="round"/>
<polygon points="481.43,528.31 494.21,521.68 494.36,514.46 481.56,521.04" fill="#7e7e7e" stroke="#4a4a4a" stroke-width="0.5" stroke-linejoin="round"/>
<polygon points="464.39,515.31 481.56,521.04 494.36,514.46 477.23,508.83" fill="#8f8f8f" stroke="#4a4a4a" stroke-width="0.5" stroke-linejoin="round"/>
<polygon points="443.14,533.29 460.38,539.22 460.42,536.62 443.17,530.71" fill="#c5c5c5" stroke="#4a4a4a" stroke-width="0.5" stroke-linejoin="round"/>
<polygon points="460.38,539.22 473.51,532.41 473.56,529.83 460.42,536.62" fill="#7e7e7e" stroke="#4a4a4a" stroke-width="0.5" stroke-linejoin="round"/>
<polygon points="443.17,530.71 460.42,536.62 473.56,529.83 456.36,524.02" fill="#8f8f8f" stroke="#4a4a4a" stroke-width="0.5" stroke-linejoin="round"/>
<polygon points="423.46,543.31 440.78,549.39 440.78,549.13 423.47,543.05" fill="#c5c5c5" stroke="#4a4a4a" stroke-width="0.5" stroke-linejoin="round"/>
<polygon points="440.78,549.39 454.24,542.41 454.24,542.15 440.78,549.13" fill="#7e7e7e" stroke="#4a4a4a" stroke-width="0.5" stroke-linejoin="round"/>
<polygon points="423.47,543.05 440.78,549.13 454.24,542.15 436.98,536.18" fill="#8f8f8f" stroke="#4a4a4a" stroke-width="0.5" stroke-linejoin="round"/>
<polygon points="405.18,552.62 422.55,558.84 422.56,558.58 405.18,552.36" fill="#c5c5c5" stroke="#4a4a4a" stroke-width="0.5" stroke-linejoin="round"/>
<polygon points="422.55,558.84 436.33,551.69 436.33,551.44 422.56,558.58" fill="#7e7e7e" stroke="#4a4a4a" stroke-width="0.5" stroke-linejoin="round"/>
<polygon points="405.18,552.36 422.56,558.58 436.33,551.44 419.00,545.33" fill="#8f8f8f" stroke="#4a4a4a" stroke-width="0.5" stroke-linejoin="round"/>
<line x1="87.89" y1="457.92" x2="71.17" y2="46.78" stroke="#161616" stroke-width="1.5" stroke-linecap="square"/>
<line x1="87.89" y1="457.92" x2="409.90" y2="576.18" stroke="#161616" stroke-width="1.5" stroke-linecap="square"/>
<line x1="409.90" y1="576.18" x2="666.24" y2="441.53" stroke="#161616" stroke-width="1.5" stroke-linecap="square"/>
<line x1="79.69" y1="457.92" x2="87.89" y2="457.92" stroke="#161616" stroke-width="1.4" />
<line x1="81.85" y1="418.97" x2="86.31" y2="418.97" stroke="#161616" stroke-width="1.4" />
<line x1="76.26" y1="379.55" x2="84.70" y2="379.55" stroke="#161616" stroke-width="1.4" />
<line x1="78.50" y1="339.67" x2="83.08" y2="339.67" stroke="#161616" stroke-width="1.4" />
<line x1="72.76" y1="299.32" x2="81.44" y2="299.32" stroke="#161616" stroke-width="1.4" />
<line x1="75.08" y1="258.49" x2="79.78" y2="258.49" stroke="#161616" stroke-width="1.4" />
<line x1="69.18" y1="217.16" x2="78.10" y2="217.16" stroke="#161616" stroke-width="1.4" />
<line x1="71.58" y1="175.34" x2="76.40" y2="175.34" stroke="#161616" stroke-width="1.4" />
<line x1="65.52" y1="133.01" x2="74.68" y2="133.01" stroke="#161616" stroke-width="1.4" />
<line x1="67.99" y1="90.16" x2="72.93" y2="90.16" stroke="#161616" stroke-width="1.4" />
<line x1="61.77" y1="46.78" x2="71.17" y2="46.78" stroke="#161616" stroke-width="1.4" />
<line x1="87.89" y1="457.92" x2="87.89" y2="465.82" stroke="#161616" stroke-width="1.4" />
<line x1="136.92" y1="475.93" x2="136.92" y2="484.11" stroke="#161616" stroke-width="1.4" />
<line x1="188.40" y1="494.83" x2="188.40" y2="503.28" stroke="#161616" stroke-width="1.4" />
<line x1="242.51" y1="514.70" x2="242.51" y2="523.43" stroke="#161616" stroke-width="1.4" />
<line x1="299.47" y1="535.62" x2="299.47" y2="544.62" stroke="#161616" stroke-width="1.4" />
<line x1="359.50" y1="557.66" x2="359.50" y2="566.94" stroke="#161616" stroke-width="1.4" />
<line x1="409.90" y1="576.18" x2="409.90" y2="585.78" stroke="#161616" stroke-width="1.4" />
<line x1="482.70" y1="537.94" x2="482.70" y2="547.11" stroke="#161616" stroke-width="1.4" />
<line x1="549.18" y1="503.02" x2="549.18" y2="511.77" stroke="#161616" stroke-width="1.4" />
<line x1="610.14" y1="470.99" x2="610.14" y2="479.32" stroke="#161616" stroke-width="1.4" />
<line x1="666.24" y1="441.53" x2="666.24" y2="449.43" stroke="#161616" stroke-width="1.4" />
<text x="37.82" y="53.45" text-anchor="middle" font-size="18.50">0.05</text>
<text x="41.97" y="139.67" text-anchor="middle" font-size="18.50">0.04</text>
<text x="46.14" y="223.62" text-anchor="middle" font-size="18.40">0.03</text>
<text x="50.13" y="305.50" text-anchor="middle" font-size="18.20">0.02</text>
<text x="52.74" y="385.47" text-anchor="middle" font-size="17.90">0.01</text>
<text x="57.24" y="464.63" text-anchor="middle" font-size="17.80">0.00</text>
<text x="88.64" y="486.63" text-anchor="middle" font-size="17.00">75</text>
<text x="137.13" y="505.47" text-anchor="middle" font-size="17.80">80</text>
<text x="188.58" y="525.36" text-anchor="middle" font-size="18.50">85</text>
<text x="242.80" y="545.47" text-anchor="middle" font-size="18.90">90</text>
<text x="299.84" y="567.36" text-anchor="middle" font-size="19.30">95</text>
<text x="360.02" y="590.63" text-anchor="middle" font-size="19.60">100</text>
<text x="409.33" y="609.61" text-anchor="middle" font-size="20.00">4</text>
<text x="482.50" y="568.79" text-anchor="middle" font-size="19.00">6</text>
<text x="548.79" y="533.47" text-anchor="middle" font-size="18.40">8</text>
<text transform="translate(610.11,499.95) scale(0.965,1)" text-anchor="middle" font-size="17.60">10</text>
<text transform="translate(666.41,469.72) scale(0.940,1)" text-anchor="middle" font-size="16.80">12</text>
<text transform="translate(18.0,259.0) rotate(-91.8)" text-anchor="middle" font-size="22.2">Probability</text>
<text transform="translate(217,571.9) rotate(19.4)" text-anchor="middle" font-size="23">Rupture length (km)</text>
<text transform="translate(559.9,563.7) rotate(-29.7)" text-anchor="middle" font-size="22.8">Slip rate (mm/yr)</text>
</svg>
</body></html>
